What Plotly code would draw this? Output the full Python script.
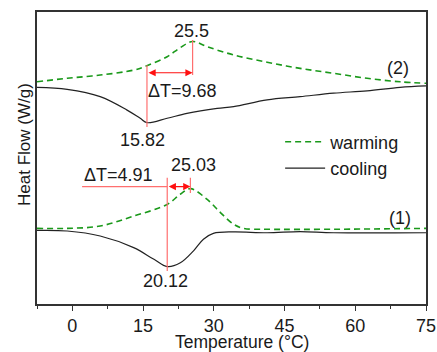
import plotly.graph_objects as go

# Temperature grid (°C) for each DSC run
temp_w2 = [-7.5, -1.1, 5.9, 13.0, 15.8, 20.1, 22.9, 25.5, 28.6, 34.2, 41.3, 48.3, 55.4, 62.5, 69.5, 75.0]
flow_w2 = [7.61, 7.73, 7.84, 8.01, 8.16, 8.47, 8.78, 8.99, 8.81, 8.53, 8.28, 8.07, 7.90, 7.73, 7.61, 7.56]

temp_c2 = [-7.5, -1.1, 5.9, 11.6, 14.4, 15.82, 20.1, 24.3, 30.7, 34.2, 41.3, 48.3, 55.4, 62.5, 69.5, 75.0]
flow_c2 = [7.42, 7.35, 7.10, 6.64, 6.36, 6.21, 6.36, 6.53, 6.70, 6.76, 6.99, 7.10, 7.22, 7.30, 7.42, 7.47]

temp_w1 = [-7.5, -1.1, 5.9, 13.0, 20.1, 22.9, 25.03, 28.6, 31.4, 34.2, 36.3, 41.3, 55.4, 75.0]
flow_w1 = [2.59, 2.59, 2.67, 3.01, 3.41, 3.76, 3.95, 3.58, 3.13, 2.73, 2.59, 2.56, 2.56, 2.59]

temp_c1 = [-7.5, -1.1, 5.9, 13.0, 17.3, 20.12, 22.9, 25.7, 27.8, 29.9, 34.2, 41.3, 48.3, 55.4, 75.0]
flow_c1 = [2.52, 2.50, 2.33, 1.93, 1.53, 1.28, 1.41, 1.82, 2.22, 2.42, 2.47, 2.44, 2.48, 2.44, 2.44]

# Characteristic temperatures
peak_cool_2, peak_warm_2 = 15.82, 25.5
peak_cool_1, peak_warm_1 = 20.12, 25.03

x_ticks = [0, 15, 30, 45, 60, 75]

GREEN = "#1a991a"
RED_LINE = "#ff6f6f"
RED = "#ff1010"
FONT = "Liberation Sans, Arial, sans-serif"
TXT = "#1a1a1a"
FS = 18

fig = go.Figure()

fig.add_trace(go.Scatter(x=temp_w2, y=flow_w2, mode="lines", name="warming",
                         line=dict(color=GREEN, width=1.6, dash="6px,4px", shape="spline")))
fig.add_trace(go.Scatter(x=temp_c2, y=flow_c2, mode="lines", name="cooling",
                         line=dict(color="#222222", width=1.2, shape="spline")))
fig.add_trace(go.Scatter(x=temp_w1, y=flow_w1, mode="lines", showlegend=False,
                         line=dict(color=GREEN, width=1.6, dash="6px,4px", shape="spline")))
fig.add_trace(go.Scatter(x=temp_c1, y=flow_c1, mode="lines", showlegend=False,
                         line=dict(color="#222222", width=1.2, shape="spline")))

# Guide lines marking the peak temperatures
guides = [
    (peak_warm_2, 7.84, 9.04),
    (peak_cool_2, 6.06, 8.18),
    (peak_cool_1, 1.13, 4.32),
    (peak_warm_1, 3.80, 4.32),
]
for xv, y0, y1 in guides:
    fig.add_shape(type="line", x0=xv, x1=xv, y0=y0, y1=y1, xref="x", yref="y",
                  line=dict(color=RED_LINE, width=1.2))
fig.add_shape(type="line", x0=2.06, x1=peak_cool_1, y0=4.02, y1=4.02, xref="x", yref="y",
              line=dict(color=RED_LINE, width=1.2))

# Double-headed arrows spanning the hysteresis
for xa, xb, yv in [(peak_cool_2, peak_warm_2, 7.92), (peak_cool_1, peak_warm_1, 4.02)]:
    fig.add_annotation(x=xb, y=yv, ax=xa, ay=yv, xref="x", yref="y", axref="x", ayref="y",
                       text="", showarrow=True, arrowhead=2, startarrowhead=2,
                       arrowside="end+start", arrowsize=1.2, arrowwidth=1.2, arrowcolor=RED)

labels = [
    (25.3, 9.36, "25.5"),
    (23.3, 7.30, "ΔT=9.68"),
    (14.8, 5.62, "15.82"),
    (69.1, 8.08, "(2)"),
    (9.75, 4.42, "ΔT=4.91"),
    (25.66, 4.76, "25.03"),
    (19.7, 0.79, "20.12"),
    (69.5, 2.96, "(1)"),
]
for xv, yv, t in labels:
    fig.add_annotation(x=xv, y=yv, xref="x", yref="y", text=t, showarrow=False,
                       font=dict(family=FONT, size=FS, color=TXT),
                       xanchor="center", yanchor="middle")

# Axis titles placed as paper annotations
fig.add_annotation(x=0.526, y=-0.131, xref="paper", yref="paper", text="Temperature (°C)",
                   showarrow=False, font=dict(family=FONT, size=17.5, color=TXT),
                   xanchor="center", yanchor="middle", borderpad=0)
fig.add_annotation(x=-0.031, y=0.548, xref="paper", yref="paper", text="Heat Flow (W/g)",
                   showarrow=False, textangle=-90, font=dict(family=FONT, size=17, color=TXT),
                   xanchor="center", yanchor="middle")

fig.update_layout(
    width=437, height=352,
    margin=dict(l=37, r=11, t=12, b=48),
    paper_bgcolor="white", plot_bgcolor="white",
    font=dict(family=FONT, size=FS, color=TXT),
    legend=dict(x=0.625, y=0.51, xanchor="left", yanchor="middle",
                bgcolor="rgba(0,0,0,0)", font=dict(size=FS, color=TXT),
                tracegroupgap=0, itemwidth=40),
    showlegend=True,
)
fig.update_xaxes(
    range=[-7.5, 75], tickvals=x_ticks, ticktext=[str(v) for v in x_ticks],
    ticks="outside", ticklen=5, tickwidth=1.2, tickcolor="#333333",
    automargin=False,
    minor=dict(tickmode="linear", tick0=-7.5, dtick=7.5, ticks="outside", ticklen=3,
               tickwidth=1.2, tickcolor="#333333"),
    showline=True, linecolor="#333333", linewidth=1.5, mirror=True,
    showgrid=False, zeroline=False,
    tickfont=dict(size=FS),
)
fig.update_yaxes(
    range=[0, 10], showticklabels=False, ticks="", automargin=False,
    showline=True, linecolor="#333333", linewidth=1.5, mirror=True,
    showgrid=False, zeroline=False,
)

fig.write_html("out.html")
